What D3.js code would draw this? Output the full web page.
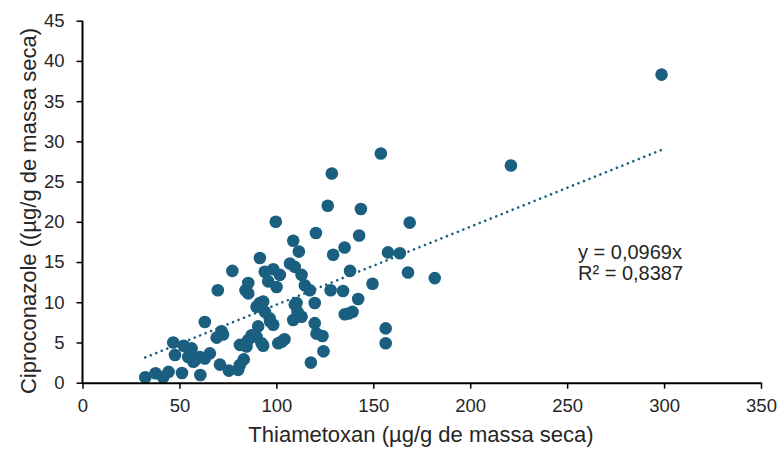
<!DOCTYPE html>
<html>
<head>
<meta charset="utf-8">
<script src="https://cdn.jsdelivr.net/npm/d3@7"></script>
<style>
  body { margin: 0; background: #fff; }
  svg text { font-family: "Liberation Sans", Arial, sans-serif; fill: #262626; }
</style>
</head>
<body>
<div id="chart"></div>
<script>
// Thiametoxan (x) vs Ciproconazole (y), µg/g de massa seca
const thiametoxan = [
  32.4, 37.7, 41.6, 44.4, 46.8, 47.7, 51.3, 52.2, 54.5, 56.3, 57.2, 58.0, 60.6, 60.8,
  63.1, 63.1, 65.7, 69.8, 69.2, 71.7, 72.5, 70.9, 75.5, 77.3,
  80.3, 81.2, 83.2, 81.2, 84.6, 84.1, 85.5, 85.5, 85.5, 87.2, 89.8, 89.8, 90.6, 91.5,
  92.4, 93.2, 93.2, 94.0, 94.1, 95.8, 96.6, 96.8, 98.4, 98.4, 99.7, 100.1, 101.8, 101.0,
  102.7, 104.2, 107.0, 108.7, 109.5, 111.6, 113.0, 114.7, 117.3, 109.5, 110.9, 108.7,
  113.0, 110.4, 119.8, 119.8, 120.7, 123.8, 117.8, 124.3, 120.4, 91.5,
  126.5, 143.6, 168.8, 142.7, 135.2, 129.3, 157.6, 163.7, 138.0, 167.9, 181.7, 149.6,
  128.0, 134.4, 142.2, 135.3, 139.3, 137.3, 156.4, 156.4, 128.6, 153.9, 221.0, 298.7
];
const ciproconazole = [
  0.67, 1.17, 0.67, 1.35, 5.0, 3.44, 1.2, 4.6, 3.2, 4.27, 2.6, 2.8, 3.2, 0.96,
  7.55, 3.0, 3.65, 11.5, 5.6, 6.4, 6.0, 2.25, 1.5, 13.9,
  1.6, 2.2, 2.9, 4.7, 4.5, 11.5, 12.4, 11.1, 5.3, 5.9, 5.7, 9.45, 7.0, 15.5,
  4.9, 10.1, 4.6, 13.8, 8.8, 12.6, 8.0, 7.6, 7.2, 14.1, 20.0, 11.9, 13.4, 4.9,
  5.1, 5.4, 14.8, 17.65, 14.4, 16.3, 13.4, 12.1, 11.5, 9.7, 8.8, 7.8,
  8.2, 9.9, 9.9, 7.4, 6.1, 5.8, 2.5, 3.9, 18.6, 9.9,
  22.0, 21.6, 19.9, 18.3, 16.8, 15.9, 16.2, 16.1, 13.9, 13.7, 13.0, 12.3,
  11.5, 11.4, 10.4, 8.5, 8.8, 8.6, 6.75, 4.9, 26.0, 28.5, 27.0, 38.3
];
const xTicks = [0, 50, 100, 150, 200, 250, 300, 350];
const yTicks = [0, 5, 10, 15, 20, 25, 30, 35, 40, 45];
const slope = 0.0969;
const equationLines = ['y = 0,0969x', 'R² = 0,8387'];

const W = 782, H = 451;
const margin = { top: 20.7, right: 21, bottom: 68.3, left: 82.5 };
const width = W - margin.left - margin.right,
  height = H - margin.top - margin.bottom;
const color = '#1a5f80';

const svg = d3.select('#chart').append('svg').attr('width', W).attr('height', H);
const g = svg.append('g').attr('transform', 'translate(' + margin.left + ',' + margin.top + ')');

const x = d3.scaleLinear().domain([0, 350]).range([0, width]);
const y = d3.scaleLinear().domain([0, 45]).range([height, 0]);

// trend line through origin, from min x to max x
const xMin = d3.min(thiametoxan), xMax = d3.max(thiametoxan);
g.append('line')
  .attr('x1', x(xMin)).attr('y1', y(slope * xMin))
  .attr('x2', x(xMax)).attr('y2', y(slope * xMax))
  .attr('stroke', color)
  .attr('stroke-width', 2.6)
  .attr('stroke-linecap', 'round')
  .attr('stroke-dasharray', '0.01 5.9');

const points = thiametoxan.map(function (d, i) { return [d, ciproconazole[i]]; });
g.selectAll('.dot')
  .data(points)
  .enter().append('circle')
  .attr('class', 'dot')
  .attr('cx', function (d) { return x(d[0]); })
  .attr('cy', function (d) { return y(d[1]); })
  .attr('r', 6.3)
  .attr('fill', color);

const xAxis = g.append('g')
  .attr('transform', 'translate(0,' + height + ')')
  .call(d3.axisBottom(x).tickValues(xTicks).tickSize(6).tickPadding(10).tickSizeOuter(0));
const yAxis = g.append('g')
  .call(d3.axisLeft(y).tickValues(yTicks).tickSize(6).tickPadding(12).tickSizeOuter(0));

[xAxis, yAxis].forEach(function (a) {
  a.select('.domain').attr('stroke', '#000').attr('stroke-width', 2);
  a.selectAll('.tick line').attr('stroke', '#000').attr('stroke-width', 1.5);
  a.selectAll('.tick text').attr('font-size', 18.5).attr('font-family', null).attr('fill', '#262626');
});
yAxis.select('.domain').attr('d', 'M0,' + (height + 1) + 'V0');

svg.append('text')
  .attr('x', 421).attr('y', 442)
  .attr('text-anchor', 'middle')
  .attr('font-size', 22)
  .text('Thiametoxan (µg/g de massa seca)');

svg.append('text')
  .attr('transform', 'translate(36,211) rotate(-90)')
  .attr('text-anchor', 'middle')
  .attr('font-size', 22)
  .text('Ciproconazole ((µg/g de massa seca)');

svg.selectAll('.eq')
  .data(equationLines)
  .enter().append('text')
  .attr('class', 'eq')
  .attr('x', 578)
  .attr('y', function (d, i) { return 259 + i * 20.7; })
  .attr('font-size', 20)
  .text(function (d) { return d; });
</script>
</body>
</html>
